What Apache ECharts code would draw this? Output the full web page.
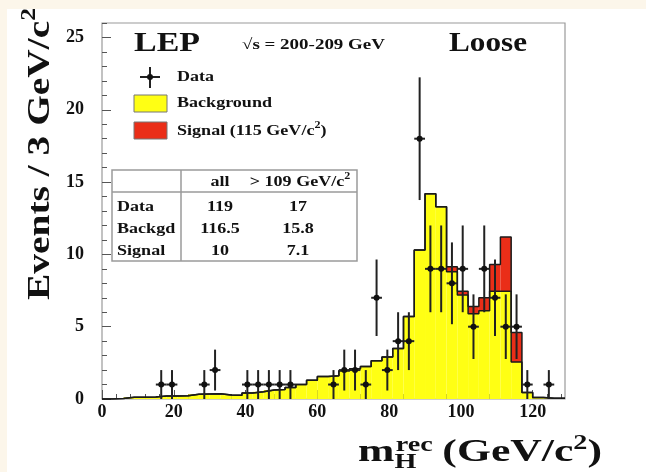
<!DOCTYPE html>
<html><head><meta charset="utf-8">
<script src="https://cdn.jsdelivr.net/npm/echarts@6/dist/echarts.min.js"></script>
<style>html,body{margin:0;padding:0;background:#fff;}#chart{width:646px;height:472px;}</style>
</head><body><div id="chart"></div>
<script>
// ---- data ----
const binEdges = [0,3,6,9,12,15,18,21,24,27,30,33,36,39,42,45,48,51,54,57,60,63,66,69,72,75,78,81,84,87,90,93,96,99,102,105,108,111,114,117,120,123,126,129];
const background = [0,0.04,0.12,0.12,0.13,0.2,0.2,0.22,0.33,0.35,0.36,0.27,0.26,0.42,0.5,0.62,0.65,0.8,1.0,1.3,1.55,1.6,1.95,2.1,2.25,2.65,2.9,3.5,5.7,10.3,14.2,13.3,8.8,7.2,5.9,6.1,7.45,7.45,2.55,0.45,0.1,0.05,0.05];
const signal = [0,0,0,0,0,0,0,0,0,0,0,0,0,0,0,0,0,0,0,0,0,0,0,0,0,0,0,0,0,0,0,0,0.35,0.25,0.5,0.9,1.85,3.75,2.05,0,0,0,0];
const dataCounts = [0,0,0,0,0,1,1,0,0,1,2,0,0,1,1,1,1,1,0,0,0,1,2,2,1,7,2,4,4,18,9,9,8,9,5,9,7,5,5,1,0,1,0];
const xTickLabels = [0,20,40,60,80,100,120];
const xMinorTicks = [4,8,12,16,24,28,32,36,44,48,52,56,64,68,72,76,84,88,92,96,104,108,112,116,124,128];
const yTickLabels = [0,5,10,15,20,25];
const yMinorTicks = [1,2,3,4,6,7,8,9,11,12,13,14,16,17,18,19,21,22,23,24,26];
const tableHeader = ['all', '> 109 GeV/c'];
const tableRows = [['Data','119','17'],['Backgd','116.5','15.8'],['Signal','10','7.1']];

// ---- helpers ----
const FAM = '"Liberation Serif","Times New Roman",serif';
const font = s => 'bold ' + s + 'px ' + FAM;
const mctx = document.createElement('canvas').getContext('2d');
function tw(t, s){ mctx.font = font(s); return mctx.measureText(t).width; }
const INK = '#111';
function T(x, y, text, size, opt){
  opt = opt || {};
  return {type:'text', x:x, y:y, scaleX:opt.sx||1, z:100, silent:true,
    style:{text:text, font:font(size), fill:INK, textAlign:opt.align||'left', textVerticalAlign:'middle'}};
}
function fitSx(text, size, target){ return target / tw(text, size); }
function supGroup(x, y, main, sup, tail, size, supSize, sx, align){
  const w1 = tw(main, size), w2 = tw(sup, supSize), w3 = tail ? tw(tail, size) : 0;
  const total = w1 + w2 + w3;
  let x0 = 0;
  if (align === 'center') x0 = -total/2;
  const ch = [
    {type:'text', x:x0, y:0, z:100, style:{text:main, font:font(size), fill:INK, textVerticalAlign:'middle'}},
    {type:'text', x:x0+w1, y:-size*0.38, z:100, style:{text:sup, font:font(supSize), fill:INK, textVerticalAlign:'middle'}}
  ];
  if (tail) ch.push({type:'text', x:x0+w1+w2, y:0, z:100, style:{text:tail, font:font(size), fill:INK, textVerticalAlign:'middle'}});
  return {type:'group', x:x, y:y, scaleX:sx, z:100, silent:true, children:ch};
}

// ---- series data built from the arrays ----
const bgRects = background.map((v,i)=>[binEdges[i], binEdges[i+1], 0, v]);
const sigRects = [];
signal.forEach((s,i)=>{ if (s>0) sigRects.push([binEdges[i], binEdges[i+1], background[i], background[i]+s]); });
const bgLine = binEdges.map((e,i)=>[e, background[Math.min(i, background.length-1)]]);
const totLine = binEdges.map((e,i)=>{ const k=Math.min(i, background.length-1); return [e, background[k]+signal[k]]; });
const points = [];
dataCounts.forEach((n,i)=>{ if (n>0) points.push([(binEdges[i]+binEdges[i+1])/2, n, Math.sqrt(n), (binEdges[i+1]-binEdges[i])/2]); });

function rectItem(color){
  return function(params, api){
    const p0 = api.coord([api.value(0), api.value(3)]);
    const p1 = api.coord([api.value(1), api.value(2)]);
    return {type:'rect', shape:{x:p0[0], y:p0[1], width:p1[0]-p0[0], height:p1[1]-p0[1]}, style:{fill:color, stroke:null}};
  };
}
function dataItem(params, api){
  const xc=api.value(0), n=api.value(1), e=api.value(2), hw=api.value(3);
  const c=api.coord([xc,n]), top=api.coord([xc,n+e]), bot=api.coord([xc,Math.max(0,n-e)]);
  const l=api.coord([xc-hw,n]), r=api.coord([xc+hw,n]);
  return {type:'group', children:[
    {type:'line', shape:{x1:c[0],y1:top[1],x2:c[0],y2:bot[1]}, style:{stroke:'#222',lineWidth:2}},
    {type:'line', shape:{x1:l[0],y1:c[1],x2:r[0],y2:c[1]}, style:{stroke:'#222',lineWidth:2}},
    {type:'circle', shape:{cx:c[0],cy:c[1],r:3}, style:{fill:'#111'}}
  ]};
}

const YEL = '#ffff14', RED = '#ea2e18';
const axisLabelStyle = {fontFamily:FAM, fontWeight:'bold', fontSize:18, color:INK};

// ---- graphics: texts, legend, table ----
const g = [];
g.push({type:'rect', shape:{x:0,y:0,width:646,height:9}, style:{fill:'#fcf6ea'}, z:-10, silent:true});
g.push({type:'rect', shape:{x:0,y:0,width:7,height:472}, style:{fill:'#fcf6ea'}, z:-10, silent:true});
g.push(T(134, 44, 'LEP', 27, {sx:fitSx('LEP',27,66)}));
g.push(T(242, 45, '\u221As = 200-209 GeV', 15, {sx:fitSx('\u221As = 200-209 GeV',15,143)}));
g.push(T(449, 44, 'Loose', 27, {sx:fitSx('Loose',27,78)}));
// legend
g.push({type:'line', shape:{x1:150,y1:67,x2:150,y2:88}, style:{stroke:'#222',lineWidth:2}, z:100});
g.push({type:'line', shape:{x1:140,y1:77,x2:160,y2:77}, style:{stroke:'#222',lineWidth:2}, z:100});
g.push({type:'circle', shape:{cx:150,cy:77,r:3}, style:{fill:'#111'}, z:100});
g.push({type:'rect', shape:{x:134,y:95,width:33,height:17}, style:{fill:YEL,stroke:'#777',lineWidth:1}, z:100});
g.push({type:'rect', shape:{x:134,y:122,width:33,height:17}, style:{fill:RED,stroke:'#777',lineWidth:1}, z:100});
const LSX = fitSx('Background',15,95);
g.push(T(177, 77, 'Data', 15, {sx:LSX}));
g.push(T(177, 103, 'Background', 15, {sx:LSX}));
g.push(supGroup(177, 131, 'Signal (115 GeV/c', '2', ')', 15, 10, LSX));
// table
g.push({type:'rect', shape:{x:112,y:170,width:245,height:91}, style:{fill:'#fff',stroke:'#9a9a9a',lineWidth:1.5}, z:90});
g.push({type:'line', shape:{x1:112,y1:192,x2:357,y2:192}, style:{stroke:'#9a9a9a',lineWidth:1.5}, z:91});
g.push({type:'line', shape:{x1:181,y1:170,x2:181,y2:261}, style:{stroke:'#9a9a9a',lineWidth:1.5}, z:91});
g.push(T(220, 182, tableHeader[0], 15, {sx:LSX, align:'center'}));
g.push(supGroup(300, 182, tableHeader[1], '2', null, 15, 10, LSX, 'center'));
const rowY = [207, 229, 251];
tableRows.forEach((r,k)=>{
  g.push(T(117, rowY[k], r[0], 15, {sx:LSX}));
  g.push(T(220, rowY[k], r[1], 15, {sx:LSX, align:'center'}));
  g.push(T(298, rowY[k], r[2], 15, {sx:LSX, align:'center'}));
});
// y title (rotated)
(function(){
  const s=31, ss=20, main='Events / 3 GeV/c';
  const w1=tw(main,s), w2=tw('2',ss);
  g.push({type:'group', x:41, y:300, rotation:Math.PI/2, scaleX:292/(w1+w2), z:100, silent:true, children:[
    {type:'text', x:0, y:0, z:100, style:{text:main, font:font(s), fill:INK, textVerticalAlign:'middle'}},
    {type:'text', x:w1, y:-11, z:100, style:{text:'2', font:font(ss), fill:INK, textVerticalAlign:'middle'}}
  ]});
})();
// x title
(function(){
  const s=31, ss=20;
  const wm=tw('m',s), wh=tw('H',ss), wr=tw('rec',ss), wsp=tw(' ',s);
  const xa = wm + Math.max(wh, wr) + wsp;
  const wg=tw('(GeV/c',s), w2=tw('2',ss), wp=tw(')',s);
  const total = xa + wg + w2 + wp;
  g.push({type:'group', x:358, y:453, scaleX:244/total, z:100, silent:true, children:[
    {type:'text', x:0, y:0, z:100, style:{text:'m', font:font(s), fill:INK, textVerticalAlign:'middle'}},
    {type:'text', x:wm, y:10, z:100, style:{text:'H', font:font(ss), fill:INK, textVerticalAlign:'middle'}},
    {type:'text', x:wm+1, y:-7, z:100, style:{text:'rec', font:font(ss), fill:INK, textVerticalAlign:'middle'}},
    {type:'text', x:xa, y:0, z:100, style:{text:'(GeV/c', font:font(s), fill:INK, textVerticalAlign:'middle'}},
    {type:'text', x:xa+wg, y:-9, z:100, style:{text:'2', font:font(ss), fill:INK, textVerticalAlign:'middle'}},
    {type:'text', x:xa+wg+w2, y:0, z:100, style:{text:')', font:font(s), fill:INK, textVerticalAlign:'middle'}}
  ]});
})();

const chart = echarts.init(document.getElementById('chart'), null, {renderer:'canvas'});
chart.setOption({
  animation:false,
  backgroundColor:'#ffffff',
  grid:{left:102, right:81, top:23, bottom:73, show:true, borderColor:'#9a9a9a', borderWidth:1.2, backgroundColor:'transparent'},
  xAxis:[
    {type:'value', min:0, max:129, position:'bottom', axisLine:{show:false}, splitLine:{show:false},
     axisTick:{inside:true, length:9, customValues:xTickLabels, lineStyle:{color:'#555'}},
     axisLabel:Object.assign({customValues:xTickLabels, margin:4}, axisLabelStyle)},
    {type:'value', min:0, max:129, position:'bottom', axisLine:{show:false}, splitLine:{show:false},
     axisTick:{inside:true, length:5, customValues:xMinorTicks, lineStyle:{color:'#555'}}, axisLabel:{show:false}}
  ],
  yAxis:[
    {type:'value', min:0, max:26, position:'left', axisLine:{show:false}, splitLine:{show:false},
     axisTick:{inside:true, length:9, customValues:yTickLabels, lineStyle:{color:'#555'}},
     axisLabel:Object.assign({customValues:yTickLabels, margin:18}, axisLabelStyle)},
    {type:'value', min:0, max:26, position:'left', axisLine:{show:false}, splitLine:{show:false},
     axisTick:{inside:true, length:5, customValues:yMinorTicks, lineStyle:{color:'#555'}}, axisLabel:{show:false}}
  ],
  series:[
    {type:'custom', name:'Background', renderItem:rectItem(YEL), data:bgRects, z:2, silent:true},
    {type:'custom', name:'Signal', renderItem:rectItem(RED), data:sigRects, z:3, silent:true},
    {type:'line', step:'end', data:totLine, symbol:'none', lineStyle:{color:'#1a1a1a', width:1.5}, z:4, silent:true},
    {type:'line', step:'end', data:bgLine, symbol:'none', lineStyle:{color:'#1a1a1a', width:1.5}, z:4, silent:true},
    {type:'custom', name:'Data', renderItem:dataItem, data:points, z:6, silent:true}
  ],
  graphic:{elements:g}
});
</script></body></html>
